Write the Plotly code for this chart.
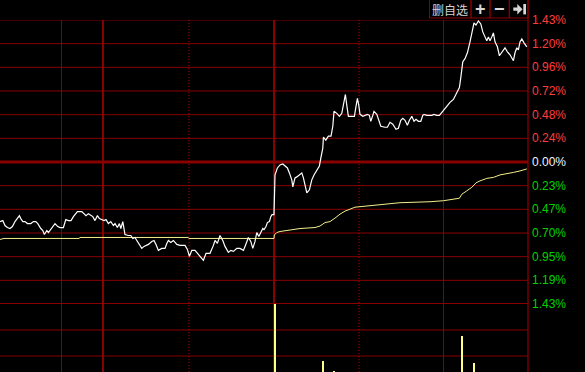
import plotly.graph_objects as go
import numpy as np

# ---------------- data (time in minutes from left edge of the view, % change) -------------
t_price = [0, 1.4, 2.5, 3.7, 5.0, 6.2, 7.5, 8.7, 9.7, 10.4, 11.4, 12.5, 13.7, 15.4, 16.7, 17.9,
           18.9, 20.4, 21.4, 22.2, 23.4, 24.2, 25.0, 26.4, 27.5, 28.9, 30.0, 31.7, 32.9, 34.2,
           35.5, 36.7, 38.7, 40.9, 42.0, 43.0, 44.2, 45.4, 46.4, 47.5, 48.7, 49.7, 50.9, 52.0,
           53.0, 54.2, 55.4, 56.7, 57.5, 58.7, 59.7, 60.4, 61.4, 62.0, 62.5, 64.2, 65.4, 66.4,
           67.5, 68.4, 69.5, 70.9, 72.0, 74.2, 75.9, 77.0, 78.0, 79.2, 80.9, 82.5, 83.4, 84.2,
           85.4, 86.7, 88.4, 90.0, 92.5, 93.7, 94.7, 95.9, 97.5, 99.2, 100.4, 101.7, 103.0, 105.0,
           106.7, 107.5, 108.7, 110.0, 111.4, 112.5, 114.2, 115.4, 116.7, 117.5, 118.4, 120.0,
           121.7, 122.7, 124.2, 125.4, 126.4, 127.5, 128.4, 129.4, 130.0, 131.4, 132.0, 133.0,
           133.7, 134.7, 135.4, 136.0, 137.0, 137.5, 138.7, 140.0, 141.4, 142.5, 143.7, 144.7,
           145.9, 146.4, 147.5, 148.4, 149.7, 150.9, 151.7, 152.5, 153.4, 154.7, 155.9, 157.0,
           158.4, 159.7, 160.5, 161.4, 161.7, 162.9, 164.2, 165.5, 166.4, 167.0, 168.4, 169.7,
           170.9, 172.0, 172.7, 173.4, 174.2, 176.4, 177.2, 178.0, 178.7, 179.4, 180.0, 181.4,
           182.5, 183.7, 184.7, 185.4, 186.4, 187.0, 188.4, 189.2, 190.4, 192.5, 193.7, 195.0,
           196.4, 198.0, 199.2, 200.4, 201.4, 202.5, 203.7, 204.7, 205.9, 207.0, 208.0, 209.2,
           210.4, 211.4, 212.0, 213.4, 214.7, 215.9, 217.0, 218.4, 219.7, 220.9, 222.0, 223.4,
           225.0, 226.7, 228.4, 229.7, 230.4, 230.9, 231.4, 232.5, 233.7, 235.0, 235.9, 237.0,
           238.0, 239.2, 240.4, 241.4, 242.5, 243.4, 244.2, 245.0, 245.9, 246.7, 247.5, 248.7,
           249.7, 250.9, 252.5, 253.7, 255.0, 256.7, 257.5, 258.4, 259.2, 260.0, 260.9, 262.0,
           263.4]
pct_price = [-0.60, -0.59, -0.64, -0.66, -0.67, -0.65, -0.60, -0.57, -0.54, -0.57, -0.60, -0.60,
             -0.62, -0.62, -0.60, -0.60, -0.62, -0.67, -0.69, -0.73, -0.69, -0.71, -0.69, -0.65,
             -0.62, -0.65, -0.66, -0.66, -0.58, -0.59, -0.59, -0.55, -0.50, -0.50, -0.52, -0.54,
             -0.52, -0.54, -0.55, -0.59, -0.54, -0.57, -0.58, -0.59, -0.58, -0.62, -0.60, -0.64,
             -0.62, -0.66, -0.62, -0.67, -0.60, -0.67, -0.73, -0.74, -0.74, -0.77, -0.76, -0.79,
             -0.82, -0.87, -0.85, -0.83, -0.80, -0.79, -0.83, -0.89, -0.87, -0.87, -0.82, -0.79,
             -0.81, -0.79, -0.83, -0.84, -0.84, -0.88, -0.95, -0.89, -0.89, -0.93, -0.95, -0.99,
             -0.92, -0.92, -0.84, -0.79, -0.82, -0.74, -0.79, -0.85, -0.91, -0.89, -0.90, -0.89,
             -0.87, -0.87, -0.89, -0.84, -0.76, -0.80, -0.87, -0.80, -0.71, -0.75, -0.72, -0.67,
             -0.68, -0.65, -0.61, -0.60, -0.55, -0.53, -0.53, -0.13, -0.06, -0.03, -0.02, -0.04,
             -0.06, -0.11, -0.18, -0.25, -0.16, -0.15, -0.13, -0.11, -0.16, -0.23, -0.31, -0.28,
             -0.18, -0.13, -0.09, -0.04, 0.05, 0.14, 0.25, 0.22, 0.26, 0.26, 0.36, 0.51, 0.49,
             0.46, 0.49, 0.61, 0.68, 0.57, 0.46, 0.46, 0.46, 0.56, 0.64, 0.57, 0.48, 0.46, 0.47,
             0.48, 0.47, 0.41, 0.47, 0.51, 0.48, 0.44, 0.36, 0.35, 0.35, 0.40, 0.38, 0.33, 0.34,
             0.42, 0.44, 0.42, 0.37, 0.42, 0.46, 0.41, 0.43, 0.41, 0.41, 0.47, 0.48, 0.47, 0.47,
             0.47, 0.48, 0.47, 0.47, 0.50, 0.53, 0.57, 0.60, 0.63, 0.69, 0.75, 0.85, 0.94, 1.01,
             1.04, 1.10, 1.21, 1.31, 1.40, 1.38, 1.42, 1.39, 1.31, 1.26, 1.22, 1.26, 1.22, 1.26,
             1.30, 1.21, 1.16, 1.07, 1.11, 1.15, 1.11, 1.08, 1.02, 1.10, 1.15, 1.13, 1.21, 1.24,
             1.20, 1.16]

t_avg = [0, 2, 39.5, 40, 94, 94.5, 137, 137.2, 138.4, 140, 145, 150, 157.5, 160, 162.5, 165,
         167.5, 170, 172.5, 175, 177.5, 182.5, 190, 200, 215, 221.7, 229.7, 230.9, 233.4, 235.9,
         238, 240, 243.4, 246.7, 250, 253.4, 256.7, 260, 263.4]
pct_avg = [-0.78, -0.77, -0.77, -0.76, -0.76, -0.77, -0.77, -0.735, -0.71, -0.70, -0.685, -0.67,
           -0.66, -0.645, -0.61, -0.60, -0.565, -0.525, -0.495, -0.475, -0.455, -0.445, -0.43,
           -0.41, -0.40, -0.39, -0.365, -0.325, -0.29, -0.255, -0.21, -0.19, -0.165, -0.155,
           -0.13, -0.12, -0.105, -0.09, -0.07]

t_vol = [137.6, 161.7, 167.2, 231.2, 237.2]
vol = [95, 21, 11.3, 46, 19]

tick_labels = ["1.43%", "1.20%", "0.96%", "0.72%", "0.48%", "0.24%", "0.00%",
               "0.23%", "0.47%", "0.70%", "0.95%", "1.19%", "1.43%"]
tick_colors = ["#ff3c3c"] * 6 + ["#f0f4ff"] + ["#00d200"] * 6

button_labels = ["删自选", "+", "−"]

# ---------------- layout constants ----------------
W, H = 585, 372
PLOT_R = 528          # right edge of the chart area (px)
PLOT_T = 20           # top edge of the chart area (px)
PRICE_B = 304         # bottom of price panel (px)
T_END = 264
PCT_MAX = 1.43
VOL_RANGE = [10, 78]
VOL_GRID = [26, 52]
GRID = "#880000"
DOT_GRID = "#b80000"

plot_h = H - PLOT_T
vol_frac = (H - PRICE_B) / plot_h


def px2x(px):
    return px / PLOT_R


def py2y(py):
    return (H - py) / plot_h


fig = go.Figure()
fig.add_trace(go.Scatter(x=t_avg, y=pct_avg, mode="lines", line=dict(color="#f2ee8a", width=1),
                         xaxis="x", yaxis="y", hoverinfo="skip"))
fig.add_trace(go.Scatter(x=t_price, y=pct_price, mode="lines", line=dict(color="#ffffff", width=1.2),
                         xaxis="x", yaxis="y", hoverinfo="skip"))
fig.add_trace(go.Bar(x=t_vol, y=vol, width=0.75, marker=dict(color="#ffff80", line=dict(width=0)),
                     xaxis="x2", yaxis="y2", hoverinfo="skip"))

shapes = []
levels = np.linspace(PCT_MAX, -PCT_MAX, len(tick_labels))
for i, lv in enumerate(levels):
    w = 1
    if i == 6:
        w = 3
    elif i == len(levels) - 1:
        w = 2
    shapes.append(dict(type="line", xref="paper", yref="y", x0=0, x1=1, y0=lv, y1=lv,
                       line=dict(color=GRID, width=w), layer="below"))
for v in VOL_GRID:
    shapes.append(dict(type="line", xref="paper", yref="y2", x0=0, x1=1, y0=v, y1=v,
                       line=dict(color=GRID, width=1), layer="below"))

separators = [(30.75, 1, "solid", GRID), (51.5, 2, "solid", GRID), (94.5, 1, "1px,2px", DOT_GRID),
              (137, 2, "solid", GRID), (179.5, 1, "1px,2px", DOT_GRID), (221.75, 1, "solid", GRID)]
for t, w, d, c in separators:
    shapes.append(dict(type="line", xref="x", yref="paper", x0=t, x1=t, y0=0, y1=1,
                       line=dict(color=c, width=w, dash=d), layer="below"))
# right border
shapes.append(dict(type="line", xref="paper", yref="paper", x0=1, x1=1, y0=0, y1=py2y(0),
                   line=dict(color=GRID, width=1.3)))

# header buttons
btn_edges = [429.5, 471, 490, 509.3, 528]
for a, b in zip(btn_edges[:-1], btn_edges[1:]):
    shapes.append(dict(type="rect", xref="paper", yref="paper", x0=px2x(a), x1=px2x(b),
                       y0=py2y(18), y1=py2y(-1), line=dict(color=GRID, width=1)))
# "jump to end" glyph
arrow = ("M {0},{1} L {2},{1} L {2},{3} L {4},{5} L {2},{6} L {2},{7} L {0},{7} Z").format(
    px2x(513.3), py2y(7.6), px2x(517.3), py2y(4), px2x(522.5), py2y(9.2), py2y(14.4), py2y(10.8))
shapes.append(dict(type="path", xref="paper", yref="paper", path=arrow,
                   fillcolor="#d8d8d8", line=dict(width=0)))
shapes.append(dict(type="rect", xref="paper", yref="paper", x0=px2x(523.3), x1=px2x(526),
                   y0=py2y(14.4), y1=py2y(4), fillcolor="#d8d8d8", line=dict(width=0)))

annotations = []
for lv, lab, col in zip(levels, tick_labels, tick_colors):
    annotations.append(dict(xref="paper", yref="y", x=1, y=lv, text=lab, showarrow=False,
                            xanchor="left", yanchor="middle", xshift=2,
                            font=dict(family="Liberation Sans, Arial", size=12, color=col)))
btn_centers = [450.2, 480.5, 499.7]
btn_fonts = [dict(family="Noto Sans CJK SC", size=12, color="#d4d4d4"),
             dict(family="Liberation Sans, Arial", size=18, color="#d8d8d8"),
             dict(family="Liberation Sans, Arial", size=18, color="#d8d8d8")]
for cx, lab, fnt in zip(btn_centers, button_labels, btn_fonts):
    txt = lab if lab == "删自选" else "<b>" + lab + "</b>"
    annotations.append(dict(xref="paper", yref="paper", x=px2x(cx), y=py2y(9), text=txt,
                            showarrow=False, xanchor="center", yanchor="middle", font=fnt))

fig.update_layout(
    width=W, height=H, autosize=False,
    margin=dict(l=0, r=W - PLOT_R, t=PLOT_T, b=0, pad=0),
    paper_bgcolor="#000000", plot_bgcolor="#000000",
    showlegend=False, hovermode=False, bargap=0,
    xaxis=dict(domain=[0, 1], range=[0, T_END], visible=False, anchor="y", fixedrange=True),
    xaxis2=dict(domain=[0, 1], range=[0, T_END], visible=False, anchor="y2", matches="x",
                fixedrange=True),
    yaxis=dict(domain=[vol_frac, 1], range=[-PCT_MAX, PCT_MAX], visible=False, anchor="x",
               fixedrange=True),
    yaxis2=dict(domain=[0, vol_frac], range=VOL_RANGE, visible=False, anchor="x2",
                fixedrange=True),
    shapes=shapes, annotations=annotations,
)

fig.write_html("out.html", config={"displayModeBar": False})
